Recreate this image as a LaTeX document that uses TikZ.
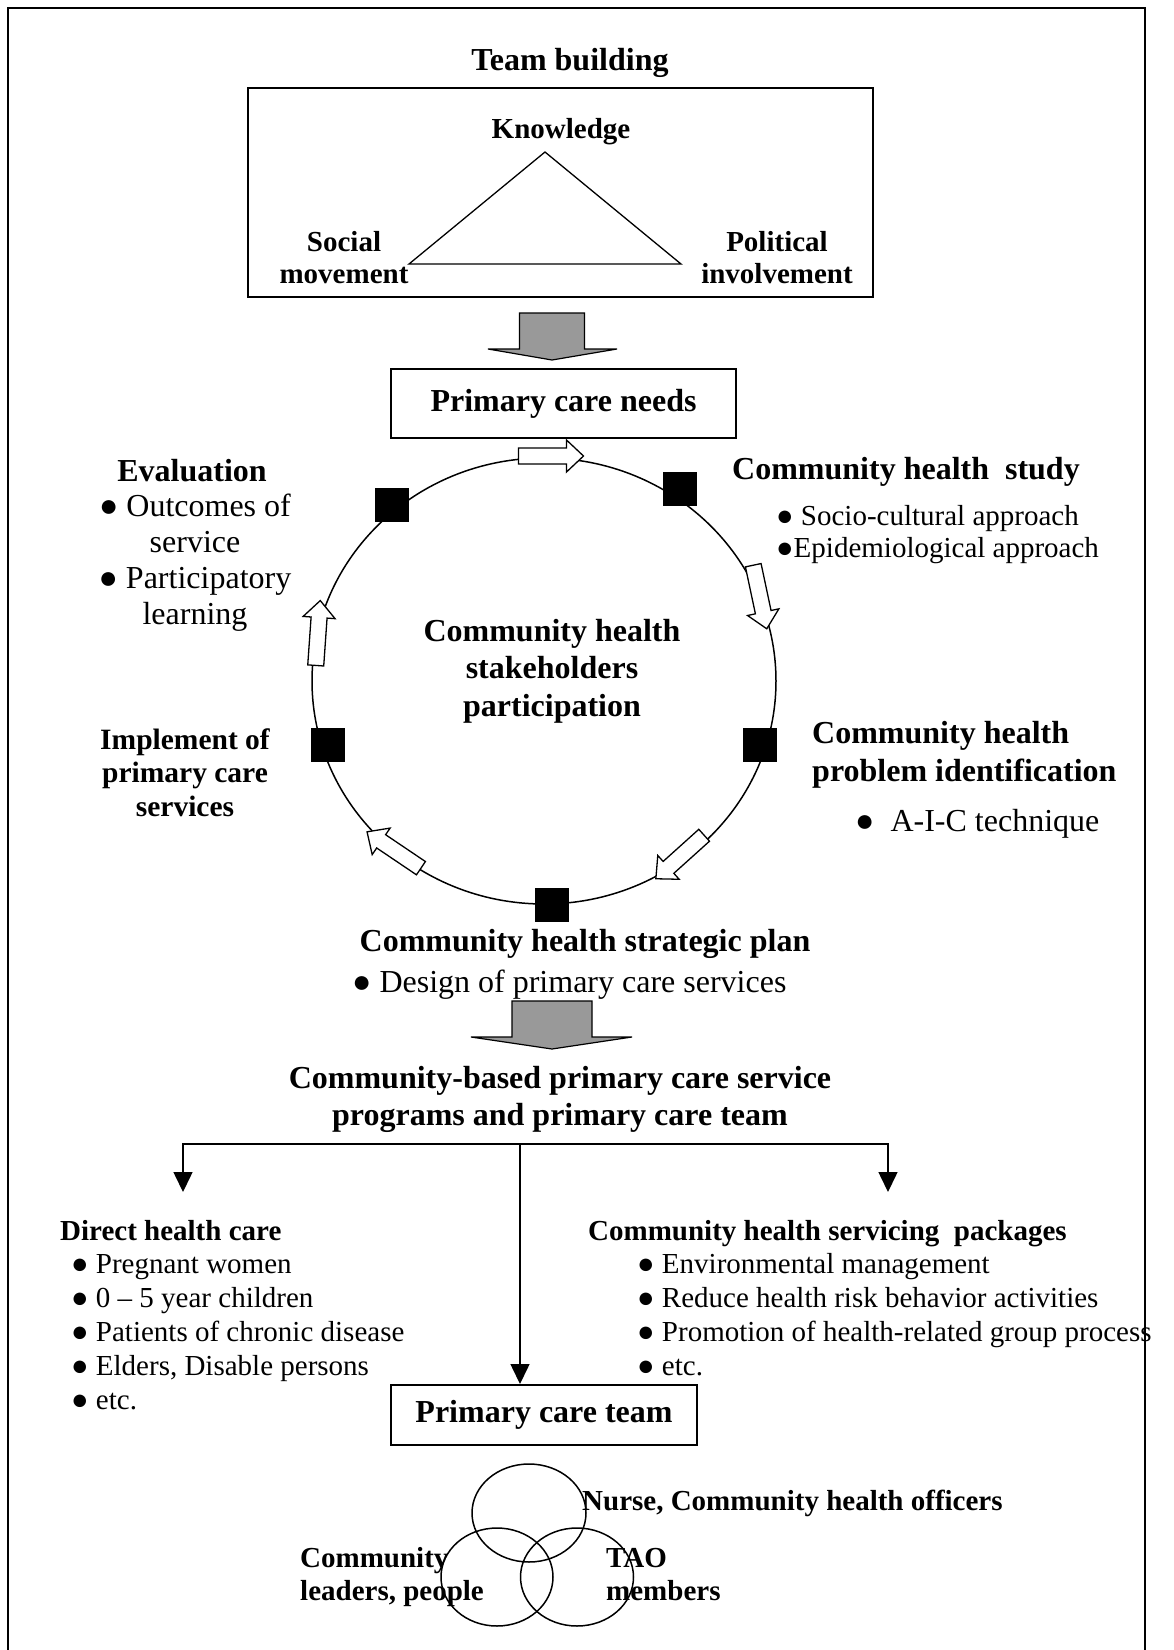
\documentclass[tikz,border=0pt]{standalone}
\usepackage{fontspec}
\setmainfont{Liberation Serif}
\usetikzlibrary{shapes.geometric, arrows.meta, positioning, calc}
\tikzset{
    >={Triangle[length=20pt, width=19pt]},
    % Text
    head/.style={font=\fontsize{32}{37}\selectfont\bfseries, inner sep=0pt, align=center},
    headSmall/.style={font=\fontsize{29}{33}\selectfont\bfseries, inner sep=0pt, align=center},
    body/.style={font=\fontsize{32}{36}\selectfont, inner sep=0pt, align=center},
    bodySmall/.style={font=\fontsize{29}{34}\selectfont, inner sep=0pt, align=left},
    % Shapes
    frameBox/.style={rectangle, draw, line width=2pt, inner sep=0pt},
    marker/.style={rectangle, fill=black, minimum size=34pt, inner sep=0pt},
    ring/.style={ellipse, draw, line width=1.5pt, inner sep=0pt},
    bigArrow/.style={draw=black, fill=black!40, line width=1.2pt, line join=miter},
    % Flow
    flow/.style={->, line width=1.5pt},
    pics/cycArrow/.style={code={
        \draw[fill=white, line width=1.3pt] (-32.5,-8) -- (15.5,-8) -- (15.5,-16) -- (32.5,0)
            -- (15.5,16) -- (15.5,8) -- (-32.5,8) -- cycle;
    }}
}
\begin{document}
\begin{tikzpicture}[x=1pt, y=-1pt]
\useasboundingbox (0,0) rectangle (1174,1650);
\draw[line width=2pt] (8,1650) -- (8,8) -- (1145,8) -- (1145,1650);

% Team building (multi-line nodes sit on their last line)
\node[head, anchor=base] (tb) at (570,70) {Team building};
\node[frameBox, minimum width=625pt, minimum height=209pt] (tbox) at (560.5,192.5) {};
\node[headSmall, anchor=base] (know) at (561,138) {Knowledge};
\node[headSmall, anchor=base, font=\fontsize{29}{32}\selectfont\bfseries] (soc) at (344,283) {Social\\movement};
\node[headSmall, anchor=base, font=\fontsize{29}{32}\selectfont\bfseries] (pol) at (777,283) {Political\\involvement};
\coordinate (apex) at (545,152);
\coordinate (triL) at (409,264);
\coordinate (triR) at (681,264);
\draw[line width=1.3pt] (apex) -- (triL) -- (triR) -- cycle;

\filldraw[bigArrow] (519.5,313) -- (584.5,313) -- (584.5,349) -- (617,349) -- (552,360)
    -- (488,349) -- (519.5,349) -- cycle;
\node[frameBox, head, minimum width=345pt, minimum height=69pt] (pcn) at (563.5,403.5) {Primary care needs};

% Cycle
\node[ring, minimum width=464pt, minimum height=446pt] (cyc) at (544,681) {};
\foreach \x/\y [count=\i] in {392/505, 680/489, 760/745, 552/905, 328/745}
    \node[marker] (m\i) at (\x,\y) {};
\foreach \x/\y/\a in {551/456/0, 760/597/-78, 680/857/-138, 394/850/146, 318/633/86}
    \pic[rotate=\a] at (\x,\y) {cycArrow};

\node[head, anchor=base] (eval) at (192,481) {Evaluation};
\node[body, anchor=base] (evall) at (195,624) {● Outcomes of\\service\\● Participatory\\learning};
\node[head, anchor=base] (chs) at (906,479) {Community health\ \ study};
\node[bodySmall, anchor=base west, font=\fontsize{29}{32}\selectfont] (chsl) at (776,557)
    {● Socio-cultural approach\\●Epidemiological approach};
\node[head, anchor=base, font=\fontsize{32}{37.5}\selectfont\bfseries] (csp) at (552,716)
    {Community health\\stakeholders\\participation};
\node[headSmall, anchor=base, font=\fontsize{29.5}{33.5}\selectfont\bfseries] (impl) at (185,816)
    {Implement of\\primary care\\services};
\node[head, anchor=base west, align=left, font=\fontsize{32}{38}\selectfont\bfseries] (chp) at (812,781)
    {Community health\\problem identification};
\node[body, anchor=base west] (aic) at (855,831) {●\ \ A-I-C technique};
\node[head, anchor=base] (plan) at (585,951) {Community health strategic plan};

\filldraw[bigArrow] (512,1001) -- (592,1001) -- (592,1037) -- (632,1037) -- (552,1049)
    -- (471,1037) -- (512,1037) -- cycle;
\node[body, anchor=base west] (des) at (352,992) {● Design of primary care services};

% Programs
\node[head, anchor=base] (prog) at (560,1125)
    {Community-based primary care service\\programs and primary care team};
\node[frameBox, head, minimum width=306pt, minimum height=60pt] (pct) at (544,1415) {Primary care team};
\coordinate (split) at (520,1144);
\coordinate (lTip) at (183,1192);
\coordinate (rTip) at (888,1192);
\draw[flow] (split) -| (lTip);
\draw[flow] (split) -| (rTip);
\draw[flow] (split) -- (split |- pct.north);

\node[headSmall, anchor=base west] (dhc) at (60,1240) {Direct health care};
\node[bodySmall, anchor=base west] (dhcl) at (71,1409)
    {● Pregnant women\\● 0 – 5 year children\\● Patients of chronic disease\\● Elders, Disable persons\\● etc.};
\node[headSmall, anchor=base west] (chsp) at (588,1240) {Community health servicing\ \ packages};
\node[bodySmall, anchor=base west] (chspl) at (637,1375)
    {● Environmental management\\● Reduce health risk behavior activities\\● Promotion of health-related group process\\● etc.};

% Team
\node[ring, minimum width=114pt, minimum height=98pt] (vTop) at (529,1513) {};
\node[ring, minimum width=112pt, minimum height=98pt] (vLeft) at (497,1577) {};
\node[ring, minimum width=113pt, minimum height=98pt] (vRight) at (577,1577) {};
\node[headSmall, anchor=base west] (nurse) at (582,1510) {Nurse, Community health officers};
\node[headSmall, anchor=base west, align=left] (lead) at (300,1600) {Community\\leaders, people};
\node[headSmall, anchor=base west, align=left] (tao) at (606,1600) {TAO\\members};
\end{tikzpicture}
\end{document}
